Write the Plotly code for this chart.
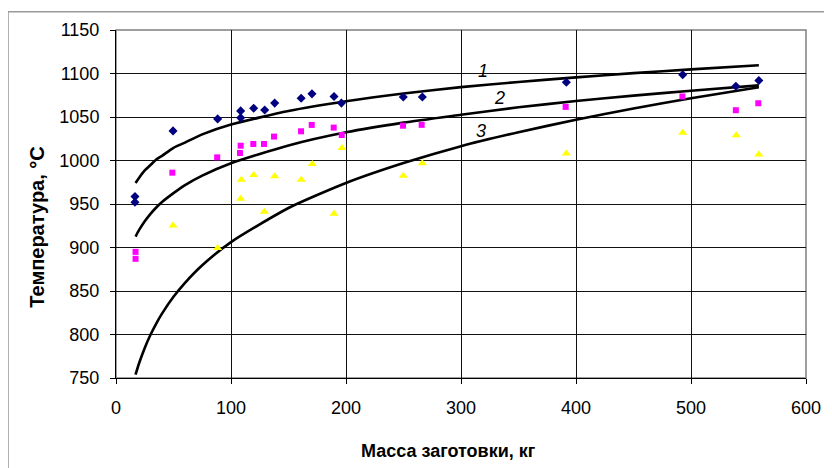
import plotly.graph_objects as go

# Experimental points
blue_x = [16.5, 16.5, 49.6, 88.4, 108.4, 108.4, 119.7, 129.3, 138, 161, 170.4, 189.6, 196, 249.8, 266.4, 391.6, 492.8, 539, 559]
blue_y = [958.6, 952, 1034, 1047.8, 1057, 1049, 1060, 1058, 1066, 1071.6, 1076.6, 1073.6, 1066, 1073, 1073, 1090, 1098.5, 1085.4, 1092]

pink_x = [17, 17, 49, 88, 108.4, 107.8, 119.4, 128.7, 137.4, 160.9, 170.2, 189.3, 196.3, 249.6, 265.8, 391, 492.5, 539, 558.5]
pink_y = [895, 887, 986, 1003.6, 1017, 1008.6, 1019, 1019, 1027.5, 1033.6, 1040.9, 1037.8, 1029.3, 1040, 1041, 1061.6, 1073.6, 1057.8, 1065.8]

yellow_x = [49.6, 88.4, 109, 108.4, 119.7, 129, 138, 161, 170.7, 189.6, 196.5, 249.8, 266.4, 391.6, 492.8, 539.4, 559]
yellow_y = [925.2, 899.5, 978, 956, 983.2, 941, 982, 978, 996, 938.7, 1014.3, 982.5, 996.7, 1008, 1032, 1029, 1007]

# Trend curves
curve_x = [17, 20, 25, 30, 35, 40, 50, 60, 75, 100, 150, 200, 250, 300, 350, 400, 450, 500, 559]
curve1_y = [974.1, 980.0, 988.6, 994.8, 1001.2, 1005.4, 1014.6, 1020.6, 1030.0, 1041.3, 1056.9, 1068.1, 1077.0, 1084.3, 1090.3, 1095.6, 1100.4, 1104.7, 1109.5]
curve2_y = [912.5, 919.9, 930.2, 938.7, 946.0, 952.3, 962.5, 971.8, 982.7, 996.9, 1017.3, 1032.4, 1043.5, 1052.5, 1061.2, 1068.3, 1074.6, 1080.2, 1086.3]
curve3_y = [753.8, 766.7, 784.6, 799.7, 812.6, 824.0, 843.3, 859.4, 879.6, 906.2, 945.4, 974.1, 997.0, 1016.5, 1032.5, 1046.9, 1059.8, 1071.5, 1084.3]

curve_labels = ["1", "2", "3"]
label_x = [318.9, 333.3, 317.1]
label_y = [1103.2, 1072.2, 1033.4]

x_ticks = [0, 100, 200, 300, 400, 500, 600]
y_ticks = [750, 800, 850, 900, 950, 1000, 1050, 1100, 1150]

x_title = "Масса заготовки, кг"
y_title = "Температура, °С"

FONT = "Liberation Sans, Arial, sans-serif"

fig = go.Figure()

for cy in (curve1_y, curve2_y, curve3_y):
    fig.add_trace(go.Scatter(x=curve_x, y=cy, mode="lines",
                             line=dict(color="black", width=2.6, shape="spline", smoothing=0.6),
                             showlegend=False, hoverinfo="skip"))

fig.add_trace(go.Scatter(x=blue_x, y=blue_y, mode="markers",
                         marker=dict(symbol="diamond", size=7, color="#000080"), showlegend=False))
fig.add_trace(go.Scatter(x=pink_x, y=pink_y, mode="markers",
                         marker=dict(symbol="square", size=6, color="#FF00FF"), showlegend=False))
fig.add_trace(go.Scatter(x=yellow_x, y=yellow_y, mode="markers",
                         marker=dict(symbol="triangle-up", size=8, color="#FFFF00"), showlegend=False))

for t, lx, ly in zip(curve_labels, label_x, label_y):
    fig.add_annotation(x=lx, y=ly, text="<i>" + t + "</i>", showarrow=False,
                       font=dict(family=FONT, size=18, color="black"))

# axis titles
fig.add_annotation(xref="paper", yref="paper", x=0.4826, y=-0.2089, xanchor="center", yanchor="middle",
                   text="<b>" + x_title + "</b>",
                   showarrow=False, font=dict(family=FONT, size=18, color="black"))
fig.add_annotation(xref="paper", yref="paper", x=-0.1138, y=0.4333, xanchor="center", yanchor="middle",
                   text="<b>" + y_title + "</b>",
                   textangle=-90, showarrow=False, font=dict(family=FONT, size=20, color="black"))

# outer chart border
fig.add_shape(type="rect", xref="paper", yref="paper", x0=-0.1565, x1=1.0319, y0=-0.29, y1=1.0526,
              line=dict(color="#9a9a9a", width=1.5), layer="below")
# plot area border
fig.add_shape(type="rect", xref="paper", yref="paper", x0=0, x1=1, y0=0, y1=1,
              line=dict(color="#808080", width=1.5), layer="below")

fig.update_layout(
    width=824, height=460,
    margin=dict(l=108, r=26, t=22, b=90),
    paper_bgcolor="white", plot_bgcolor="white",
    font=dict(family=FONT, size=18, color="black"),
    xaxis=dict(range=[0, 600], tickvals=x_ticks, ticks="outside", ticklen=5, tickcolor="black",
               showgrid=True, gridcolor="#111111", gridwidth=1, showline=True, linecolor="black",
               linewidth=1, zeroline=False, tickfont=dict(size=18), ticklabelstandoff=8),
    yaxis=dict(range=[750, 1150], tickvals=y_ticks, ticks="outside", ticklen=5, tickcolor="black",
               showgrid=True, gridcolor="#111111", gridwidth=1, showline=True, linecolor="black",
               linewidth=1, zeroline=False, tickfont=dict(size=18), ticklabelstandoff=7),
)

fig.write_html("out.html")
